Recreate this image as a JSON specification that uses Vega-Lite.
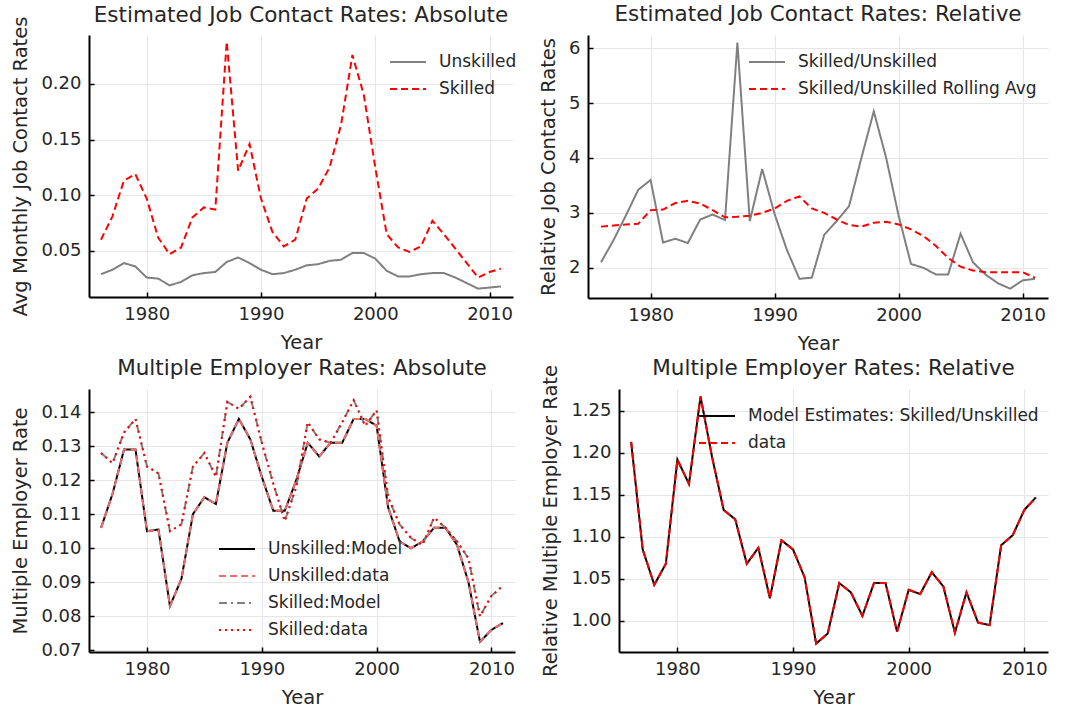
{
  "$schema": "https://vega.github.io/schema/vega-lite/v6.json",
  "background": "white",
  "padding": {"left": 10, "top": 3, "right": 5, "bottom": 2},
  "resolve": {"scale": {"color": "independent", "strokeDash": "independent"}, "legend": {"color": "independent", "strokeDash": "independent"}},
  "config": {
    "font": "DejaVu Sans",
    "view": {"stroke": null},
    "axis": {
      "domainColor": "black", "domainWidth": 2,
      "tickColor": "black", "tickSize": -5, "tickWidth": 1.5,
      "labelPadding": 13, "labelFontSize": 18, "labelColor": "#262626", "labelFont": "DejaVu Sans",
      "titleFontSize": 19.5, "titleFontWeight": "normal", "titleColor": "#262626", "titleFont": "DejaVu Sans", "titlePadding": 10,
      "gridColor": "#e6e6e6", "gridWidth": 1
    },
    "title": {"fontSize": 21.5, "fontWeight": "normal", "color": "#262626", "font": "DejaVu Sans", "offset": 10, "frame": "group"},
    "legend": {
      "labelFontSize": 17, "labelColor": "#262626", "labelFont": "DejaVu Sans", "labelLimit": 0,
      "symbolType": "stroke", "symbolSize": 1296, "symbolStrokeWidth": 2,
      "labelOffset": 12, "rowPadding": -3, "padding": 0, "orient": "none", "title": null
    }
  },
  "vconcat": [
    {
      "resolve": {"scale": {"color": "independent", "strokeDash": "independent"}, "legend": {"color": "independent", "strokeDash": "independent"}},
      "hconcat": [
        {
          "width": 424, "height": 262,
          "title": {"text": "Estimated Job Contact Rates: Absolute", "offset": -10},
          "data": {"values": [
            {"year":1976,"Unskilled":0.029,"Skilled":0.060},{"year":1977,"Unskilled":0.033,"Skilled":0.081},{"year":1978,"Unskilled":0.039,"Skilled":0.113},{"year":1979,"Unskilled":0.036,"Skilled":0.119},{"year":1980,"Unskilled":0.026,"Skilled":0.097},{"year":1981,"Unskilled":0.025,"Skilled":0.062},{"year":1982,"Unskilled":0.019,"Skilled":0.047},{"year":1983,"Unskilled":0.022,"Skilled":0.053},{"year":1984,"Unskilled":0.028,"Skilled":0.080},{"year":1985,"Unskilled":0.030,"Skilled":0.089},{"year":1986,"Unskilled":0.031,"Skilled":0.087},{"year":1987,"Unskilled":0.040,"Skilled":0.238},{"year":1988,"Unskilled":0.044,"Skilled":0.122},{"year":1989,"Unskilled":0.039,"Skilled":0.146},{"year":1990,"Unskilled":0.033,"Skilled":0.097},{"year":1991,"Unskilled":0.029,"Skilled":0.067},{"year":1992,"Unskilled":0.030,"Skilled":0.054},{"year":1993,"Unskilled":0.033,"Skilled":0.060},{"year":1994,"Unskilled":0.037,"Skilled":0.097},{"year":1995,"Unskilled":0.038,"Skilled":0.106},{"year":1996,"Unskilled":0.041,"Skilled":0.125},{"year":1997,"Unskilled":0.042,"Skilled":0.163},{"year":1998,"Unskilled":0.048,"Skilled":0.226},{"year":1999,"Unskilled":0.048,"Skilled":0.190},{"year":2000,"Unskilled":0.043,"Skilled":0.125},{"year":2001,"Unskilled":0.032,"Skilled":0.065},{"year":2002,"Unskilled":0.027,"Skilled":0.053},{"year":2003,"Unskilled":0.027,"Skilled":0.049},{"year":2004,"Unskilled":0.029,"Skilled":0.054},{"year":2005,"Unskilled":0.030,"Skilled":0.077},{"year":2006,"Unskilled":0.030,"Skilled":0.065},{"year":2007,"Unskilled":0.026,"Skilled":0.052},{"year":2008,"Unskilled":0.021,"Skilled":0.039},{"year":2009,"Unskilled":0.016,"Skilled":0.026},{"year":2010,"Unskilled":0.017,"Skilled":0.031},{"year":2011,"Unskilled":0.018,"Skilled":0.034}
          ]},
          "transform": [{"fold": ["Unskilled", "Skilled"], "as": ["series", "value"]}],
          "mark": {"type": "line", "strokeWidth": 2},
          "encoding": {
            "x": {"field": "year", "type": "quantitative", "scale": {"domain": [1974.95, 2012.05], "nice": false, "zero": false}, "axis": {"values": [1980, 1990, 2000, 2010], "format": "d", "title": "Year"}},
            "y": {"field": "value", "type": "quantitative", "scale": {"domain": [0.0085, 0.244], "nice": false, "zero": false}, "axis": {"values": [0.05, 0.1, 0.15, 0.2], "format": ".2f", "title": "Avg Monthly Job Contact Rates"}},
            "color": {"field": "series", "type": "nominal", "scale": {"domain": ["Unskilled", "Skilled"], "range": ["#808080", "#ff0000"]}, "legend": {"legendX": 300, "legendY": 8}},
            "strokeDash": {"field": "series", "type": "nominal", "scale": {"domain": ["Unskilled", "Skilled"], "range": [[1, 0], [7, 4]]}, "legend": {"legendX": 300, "legendY": 8}}
          }
        },
        {
          "width": 460, "height": 263,
          "title": "Estimated Job Contact Rates: Relative",
          "data": {"values": [
            {"year":1976,"Skilled/Unskilled":2.10,"Skilled/Unskilled Rolling Avg":2.75},{"year":1977,"Skilled/Unskilled":2.50,"Skilled/Unskilled Rolling Avg":2.77},{"year":1978,"Skilled/Unskilled":2.95,"Skilled/Unskilled Rolling Avg":2.79},{"year":1979,"Skilled/Unskilled":3.42,"Skilled/Unskilled Rolling Avg":2.80},{"year":1980,"Skilled/Unskilled":3.60,"Skilled/Unskilled Rolling Avg":3.05},{"year":1981,"Skilled/Unskilled":2.46,"Skilled/Unskilled Rolling Avg":3.06},{"year":1982,"Skilled/Unskilled":2.53,"Skilled/Unskilled Rolling Avg":3.18},{"year":1983,"Skilled/Unskilled":2.45,"Skilled/Unskilled Rolling Avg":3.22},{"year":1984,"Skilled/Unskilled":2.88,"Skilled/Unskilled Rolling Avg":3.17},{"year":1985,"Skilled/Unskilled":2.97,"Skilled/Unskilled Rolling Avg":3.05},{"year":1986,"Skilled/Unskilled":2.87,"Skilled/Unskilled Rolling Avg":2.92},{"year":1987,"Skilled/Unskilled":6.10,"Skilled/Unskilled Rolling Avg":2.93},{"year":1988,"Skilled/Unskilled":2.85,"Skilled/Unskilled Rolling Avg":2.95},{"year":1989,"Skilled/Unskilled":3.80,"Skilled/Unskilled Rolling Avg":3.00},{"year":1990,"Skilled/Unskilled":2.98,"Skilled/Unskilled Rolling Avg":3.08},{"year":1991,"Skilled/Unskilled":2.32,"Skilled/Unskilled Rolling Avg":3.22},{"year":1992,"Skilled/Unskilled":1.80,"Skilled/Unskilled Rolling Avg":3.30},{"year":1993,"Skilled/Unskilled":1.82,"Skilled/Unskilled Rolling Avg":3.08},{"year":1994,"Skilled/Unskilled":2.60,"Skilled/Unskilled Rolling Avg":3.00},{"year":1995,"Skilled/Unskilled":2.85,"Skilled/Unskilled Rolling Avg":2.88},{"year":1996,"Skilled/Unskilled":3.12,"Skilled/Unskilled Rolling Avg":2.78},{"year":1997,"Skilled/Unskilled":4.00,"Skilled/Unskilled Rolling Avg":2.75},{"year":1998,"Skilled/Unskilled":4.85,"Skilled/Unskilled Rolling Avg":2.82},{"year":1999,"Skilled/Unskilled":4.00,"Skilled/Unskilled Rolling Avg":2.84},{"year":2000,"Skilled/Unskilled":2.95,"Skilled/Unskilled Rolling Avg":2.79},{"year":2001,"Skilled/Unskilled":2.07,"Skilled/Unskilled Rolling Avg":2.70},{"year":2002,"Skilled/Unskilled":2.00,"Skilled/Unskilled Rolling Avg":2.58},{"year":2003,"Skilled/Unskilled":1.88,"Skilled/Unskilled Rolling Avg":2.40},{"year":2004,"Skilled/Unskilled":1.88,"Skilled/Unskilled Rolling Avg":2.18},{"year":2005,"Skilled/Unskilled":2.62,"Skilled/Unskilled Rolling Avg":2.02},{"year":2006,"Skilled/Unskilled":2.10,"Skilled/Unskilled Rolling Avg":1.95},{"year":2007,"Skilled/Unskilled":1.88,"Skilled/Unskilled Rolling Avg":1.92},{"year":2008,"Skilled/Unskilled":1.72,"Skilled/Unskilled Rolling Avg":1.92},{"year":2009,"Skilled/Unskilled":1.62,"Skilled/Unskilled Rolling Avg":1.92},{"year":2010,"Skilled/Unskilled":1.77,"Skilled/Unskilled Rolling Avg":1.92},{"year":2011,"Skilled/Unskilled":1.80,"Skilled/Unskilled Rolling Avg":1.82}
          ]},
          "transform": [{"fold": ["Skilled/Unskilled", "Skilled/Unskilled Rolling Avg"], "as": ["series", "value"]}],
          "mark": {"type": "line", "strokeWidth": 2},
          "encoding": {
            "x": {"field": "year", "type": "quantitative", "scale": {"domain": [1974.95, 2012.05], "nice": false, "zero": false}, "axis": {"values": [1980, 1990, 2000, 2010], "format": "d", "title": "Year"}},
            "y": {"field": "value", "type": "quantitative", "scale": {"domain": [1.45, 6.24], "nice": false, "zero": false}, "axis": {"values": [2, 3, 4, 5, 6], "format": "d", "title": "Relative Job Contact Rates"}},
            "color": {"field": "series", "type": "nominal", "scale": {"domain": ["Skilled/Unskilled", "Skilled/Unskilled Rolling Avg"], "range": ["#808080", "#ff0000"]}, "legend": {"legendX": 160, "legendY": 8}},
            "strokeDash": {"field": "series", "type": "nominal", "scale": {"domain": ["Skilled/Unskilled", "Skilled/Unskilled Rolling Avg"], "range": [[1, 0], [7, 4]]}, "legend": {"legendX": 160, "legendY": 8}}
          }
        }
      ],
      "spacing": 75,
      "bounds": "flush"
    },
    {
      "resolve": {"scale": {"color": "independent", "strokeDash": "independent"}, "legend": {"color": "independent", "strokeDash": "independent"}},
      "hconcat": [
        {
          "width": 426, "height": 263,
          "title": "Multiple Employer Rates: Absolute",
          "data": {"values": [
            {"year":1976,"Unskilled:Model":0.106,"Unskilled:data":0.106,"Skilled:Model":0.128,"Skilled:data":0.128},
            {"year":1977,"Unskilled:Model":0.116,"Unskilled:data":0.116,"Skilled:Model":0.125,"Skilled:data":0.125},
            {"year":1978,"Unskilled:Model":0.129,"Unskilled:data":0.129,"Skilled:Model":0.134,"Skilled:data":0.134},
            {"year":1979,"Unskilled:Model":0.129,"Unskilled:data":0.129,"Skilled:Model":0.138,"Skilled:data":0.138},
            {"year":1980,"Unskilled:Model":0.105,"Unskilled:data":0.105,"Skilled:Model":0.124,"Skilled:data":0.124},
            {"year":1981,"Unskilled:Model":0.1055,"Unskilled:data":0.1055,"Skilled:Model":0.122,"Skilled:data":0.122},
            {"year":1982,"Unskilled:Model":0.083,"Unskilled:data":0.083,"Skilled:Model":0.105,"Skilled:data":0.105},
            {"year":1983,"Unskilled:Model":0.091,"Unskilled:data":0.091,"Skilled:Model":0.107,"Skilled:data":0.107},
            {"year":1984,"Unskilled:Model":0.110,"Unskilled:data":0.110,"Skilled:Model":0.124,"Skilled:data":0.124},
            {"year":1985,"Unskilled:Model":0.115,"Unskilled:data":0.115,"Skilled:Model":0.128,"Skilled:data":0.128},
            {"year":1986,"Unskilled:Model":0.113,"Unskilled:data":0.113,"Skilled:Model":0.121,"Skilled:data":0.121},
            {"year":1987,"Unskilled:Model":0.131,"Unskilled:data":0.131,"Skilled:Model":0.143,"Skilled:data":0.143},
            {"year":1988,"Unskilled:Model":0.138,"Unskilled:data":0.138,"Skilled:Model":0.141,"Skilled:data":0.141},
            {"year":1989,"Unskilled:Model":0.132,"Unskilled:data":0.132,"Skilled:Model":0.1445,"Skilled:data":0.1445},
            {"year":1990,"Unskilled:Model":0.121,"Unskilled:data":0.121,"Skilled:Model":0.131,"Skilled:data":0.131},
            {"year":1991,"Unskilled:Model":0.111,"Unskilled:data":0.111,"Skilled:Model":0.119,"Skilled:data":0.119},
            {"year":1992,"Unskilled:Model":0.111,"Unskilled:data":0.111,"Skilled:Model":0.108,"Skilled:data":0.108},
            {"year":1993,"Unskilled:Model":0.120,"Unskilled:data":0.120,"Skilled:Model":0.118,"Skilled:data":0.118},
            {"year":1994,"Unskilled:Model":0.131,"Unskilled:data":0.131,"Skilled:Model":0.137,"Skilled:data":0.137},
            {"year":1995,"Unskilled:Model":0.127,"Unskilled:data":0.127,"Skilled:Model":0.132,"Skilled:data":0.132},
            {"year":1996,"Unskilled:Model":0.131,"Unskilled:data":0.131,"Skilled:Model":0.131,"Skilled:data":0.131},
            {"year":1997,"Unskilled:Model":0.131,"Unskilled:data":0.131,"Skilled:Model":0.137,"Skilled:data":0.137},
            {"year":1998,"Unskilled:Model":0.138,"Unskilled:data":0.138,"Skilled:Model":0.1435,"Skilled:data":0.1435},
            {"year":1999,"Unskilled:Model":0.138,"Unskilled:data":0.138,"Skilled:Model":0.136,"Skilled:data":0.136},
            {"year":2000,"Unskilled:Model":0.136,"Unskilled:data":0.136,"Skilled:Model":0.1405,"Skilled:data":0.1405},
            {"year":2001,"Unskilled:Model":0.112,"Unskilled:data":0.112,"Skilled:Model":0.115,"Skilled:data":0.115},
            {"year":2002,"Unskilled:Model":0.102,"Unskilled:data":0.102,"Skilled:Model":0.107,"Skilled:data":0.107},
            {"year":2003,"Unskilled:Model":0.100,"Unskilled:data":0.100,"Skilled:Model":0.103,"Skilled:data":0.103},
            {"year":2004,"Unskilled:Model":0.102,"Unskilled:data":0.102,"Skilled:Model":0.101,"Skilled:data":0.101},
            {"year":2005,"Unskilled:Model":0.106,"Unskilled:data":0.106,"Skilled:Model":0.109,"Skilled:data":0.109},
            {"year":2006,"Unskilled:Model":0.106,"Unskilled:data":0.106,"Skilled:Model":0.106,"Skilled:data":0.106},
            {"year":2007,"Unskilled:Model":0.101,"Unskilled:data":0.101,"Skilled:Model":0.102,"Skilled:data":0.102},
            {"year":2008,"Unskilled:Model":0.090,"Unskilled:data":0.090,"Skilled:Model":0.097,"Skilled:data":0.097},
            {"year":2009,"Unskilled:Model":0.0725,"Unskilled:data":0.0725,"Skilled:Model":0.080,"Skilled:data":0.080},
            {"year":2010,"Unskilled:Model":0.076,"Unskilled:data":0.076,"Skilled:Model":0.086,"Skilled:data":0.086},
            {"year":2011,"Unskilled:Model":0.078,"Unskilled:data":0.078,"Skilled:Model":0.089,"Skilled:data":0.089}
          ]},
          "transform": [{"fold": ["Unskilled:Model", "Unskilled:data", "Skilled:Model", "Skilled:data"], "as": ["series", "value"]}],
          "mark": {"type": "line", "strokeWidth": 2},
          "encoding": {
            "x": {"field": "year", "type": "quantitative", "scale": {"domain": [1974.95, 2012.05], "nice": false, "zero": false}, "axis": {"values": [1980, 1990, 2000, 2010], "format": "d", "title": "Year"}},
            "y": {"field": "value", "type": "quantitative", "scale": {"domain": [0.0695, 0.1468], "nice": false, "zero": false}, "axis": {"values": [0.07, 0.08, 0.09, 0.1, 0.11, 0.12, 0.13, 0.14], "format": ".2f", "title": "Multiple Employer Rate"}},
            "color": {"field": "series", "type": "nominal", "scale": {"domain": ["Unskilled:Model", "Unskilled:data", "Skilled:Model", "Skilled:data"], "range": ["#000000", "#f26d6d", "#808080", "#ff0000"]}, "legend": {"legendX": 129, "legendY": 141}},
            "strokeDash": {"field": "series", "type": "nominal", "scale": {"domain": ["Unskilled:Model", "Unskilled:data", "Skilled:Model", "Skilled:data"], "range": [[1, 0], [7, 4], [8, 4, 2, 4], [2, 4]]}, "legend": {"legendX": 129, "legendY": 141}}
          }
        },
        {
          "width": 429, "height": 263,
          "title": {"text": "Multiple Employer Rates: Relative", "offset": -15},
          "data": {"values": [
            {"year":1976,"Model Estimates: Skilled/Unskilled":1.213,"data":1.213},{"year":1977,"Model Estimates: Skilled/Unskilled":1.085,"data":1.085},{"year":1978,"Model Estimates: Skilled/Unskilled":1.043,"data":1.043},{"year":1979,"Model Estimates: Skilled/Unskilled":1.068,"data":1.068},{"year":1980,"Model Estimates: Skilled/Unskilled":1.192,"data":1.192},{"year":1981,"Model Estimates: Skilled/Unskilled":1.163,"data":1.163},{"year":1982,"Model Estimates: Skilled/Unskilled":1.267,"data":1.267},{"year":1983,"Model Estimates: Skilled/Unskilled":1.195,"data":1.195},{"year":1984,"Model Estimates: Skilled/Unskilled":1.132,"data":1.132},{"year":1985,"Model Estimates: Skilled/Unskilled":1.121,"data":1.121},{"year":1986,"Model Estimates: Skilled/Unskilled":1.068,"data":1.068},{"year":1987,"Model Estimates: Skilled/Unskilled":1.087,"data":1.087},{"year":1988,"Model Estimates: Skilled/Unskilled":1.027,"data":1.027},{"year":1989,"Model Estimates: Skilled/Unskilled":1.096,"data":1.096},{"year":1990,"Model Estimates: Skilled/Unskilled":1.085,"data":1.085},{"year":1991,"Model Estimates: Skilled/Unskilled":1.052,"data":1.052},{"year":1992,"Model Estimates: Skilled/Unskilled":0.973,"data":0.973},{"year":1993,"Model Estimates: Skilled/Unskilled":0.985,"data":0.985},{"year":1994,"Model Estimates: Skilled/Unskilled":1.045,"data":1.045},{"year":1995,"Model Estimates: Skilled/Unskilled":1.034,"data":1.034},{"year":1996,"Model Estimates: Skilled/Unskilled":1.006,"data":1.006},{"year":1997,"Model Estimates: Skilled/Unskilled":1.045,"data":1.045},{"year":1998,"Model Estimates: Skilled/Unskilled":1.045,"data":1.045},{"year":1999,"Model Estimates: Skilled/Unskilled":0.987,"data":0.987},{"year":2000,"Model Estimates: Skilled/Unskilled":1.037,"data":1.037},{"year":2001,"Model Estimates: Skilled/Unskilled":1.032,"data":1.032},{"year":2002,"Model Estimates: Skilled/Unskilled":1.058,"data":1.058},{"year":2003,"Model Estimates: Skilled/Unskilled":1.041,"data":1.041},{"year":2004,"Model Estimates: Skilled/Unskilled":0.986,"data":0.986},{"year":2005,"Model Estimates: Skilled/Unskilled":1.034,"data":1.034},{"year":2006,"Model Estimates: Skilled/Unskilled":0.998,"data":0.998},{"year":2007,"Model Estimates: Skilled/Unskilled":0.995,"data":0.995},{"year":2008,"Model Estimates: Skilled/Unskilled":1.090,"data":1.090},{"year":2009,"Model Estimates: Skilled/Unskilled":1.102,"data":1.102},{"year":2010,"Model Estimates: Skilled/Unskilled":1.132,"data":1.132},{"year":2011,"Model Estimates: Skilled/Unskilled":1.147,"data":1.147}
          ]},
          "transform": [{"fold": ["Model Estimates: Skilled/Unskilled", "data"], "as": ["series", "value"]}],
          "mark": {"type": "line", "strokeWidth": 2},
          "encoding": {
            "x": {"field": "year", "type": "quantitative", "scale": {"domain": [1974.95, 2012.05], "nice": false, "zero": false}, "axis": {"values": [1980, 1990, 2000, 2010], "format": "d", "title": "Year"}},
            "y": {"field": "value", "type": "quantitative", "scale": {"domain": [0.963, 1.276], "nice": false, "zero": false}, "axis": {"values": [1.0, 1.05, 1.1, 1.15, 1.2, 1.25], "format": ".2f", "title": "Relative Multiple Employer Rate"}},
            "color": {"field": "series", "type": "nominal", "scale": {"domain": ["Model Estimates: Skilled/Unskilled", "data"], "range": ["#000000", "#ff0000"]}, "legend": {"legendX": 79, "legendY": 8}},
            "strokeDash": {"field": "series", "type": "nominal", "scale": {"domain": ["Model Estimates: Skilled/Unskilled", "data"], "range": [[1, 0], [7, 4]]}, "legend": {"legendX": 79, "legendY": 8}}
          }
        }
      ],
      "spacing": 104,
      "bounds": "flush"
    }
  ],
  "spacing": 4
}
